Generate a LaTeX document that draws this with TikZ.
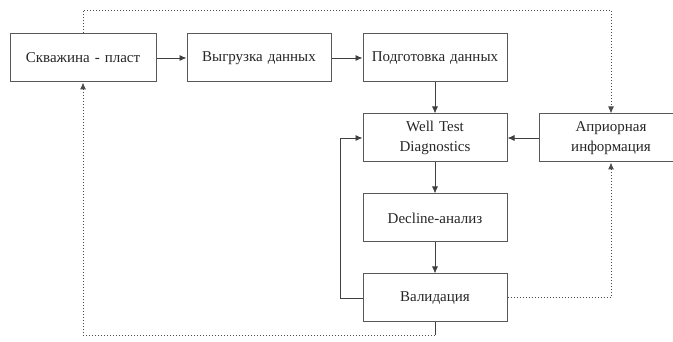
\documentclass[tikz,border=0pt]{standalone}
\usepackage{fontspec}
\setmainfont{Liberation Serif}
\usetikzlibrary{arrows.meta, positioning, calc}
\tikzset{
    >=Latex,
    x=1pt, y=1pt,
    font=\fontsize{15}{20}\selectfont,
    node distance=31pt and 31pt,
    flow_block/.style={
        rectangle,
        draw=black!65,
        line width=1pt,
        text=black!85,
        minimum width=144pt,
        minimum height=48pt,
        text width=136pt,
        align=center
    },
    flow_arrow/.style={
        -{Latex[length=7pt, width=6pt]},
        draw=black!75,
        line width=0.9pt
    },
    flow_line/.style={
        draw=black!75,
        line width=0.9pt
    },
    flow_dotted_arrow/.style={
        -{Latex[length=7pt, width=6pt]},
        draw=black!70,
        line width=1pt,
        dotted
    }
}

\begin{document}
\begin{tikzpicture}
\useasboundingbox (0,0) rectangle (673,342);

% --- Top row ---
\node[flow_block, minimum width=146pt] (Well_Reservoir) at (83,284) {Скважина - пласт};
\node[flow_block, right=30pt of Well_Reservoir] (Data_Export) {Выгрузка данных};
\node[flow_block, right=of Data_Export] (Data_Prep) {Подготовка данных};

% --- Processing column ---
\node[flow_block, below=of Data_Prep] (WTD) {Well Test \\ Diagnostics};
\node[flow_block, below=of WTD] (Decline) {Decline-анализ};
\node[flow_block, below=of Decline] (Validation) {Валидация};
\node[flow_block, right=of WTD] (Prior) {Априорная \\ информация};

% --- Helper points ---
\coordinate (topL) at ($(Well_Reservoir.north)+(0,23)$);
\coordinate (botR) at ($(Validation.south)+(0,-13)$);

% --- Edges ---
\draw[flow_arrow] (Well_Reservoir) -- (Data_Export);
\draw[flow_arrow] (Data_Export) -- (Data_Prep);
\draw[flow_arrow] (Data_Prep) -- (WTD);
\draw[flow_arrow] (WTD) -- (Decline);
\draw[flow_arrow] (Decline) -- (Validation);
\draw[flow_arrow] (Prior) -- (WTD);
\draw[flow_arrow] (Validation.west) -- ++(-22,0) |- (WTD.west);

\draw[flow_dotted_arrow] (Well_Reservoir.north) -- (topL) -| (Prior.north);
\draw[flow_dotted_arrow] (Validation.east) -| (Prior.south);
\draw[flow_line] (Validation.south) -- (botR);
\draw[flow_dotted_arrow] (botR) -| (Well_Reservoir.south);

\end{tikzpicture}
\end{document}
